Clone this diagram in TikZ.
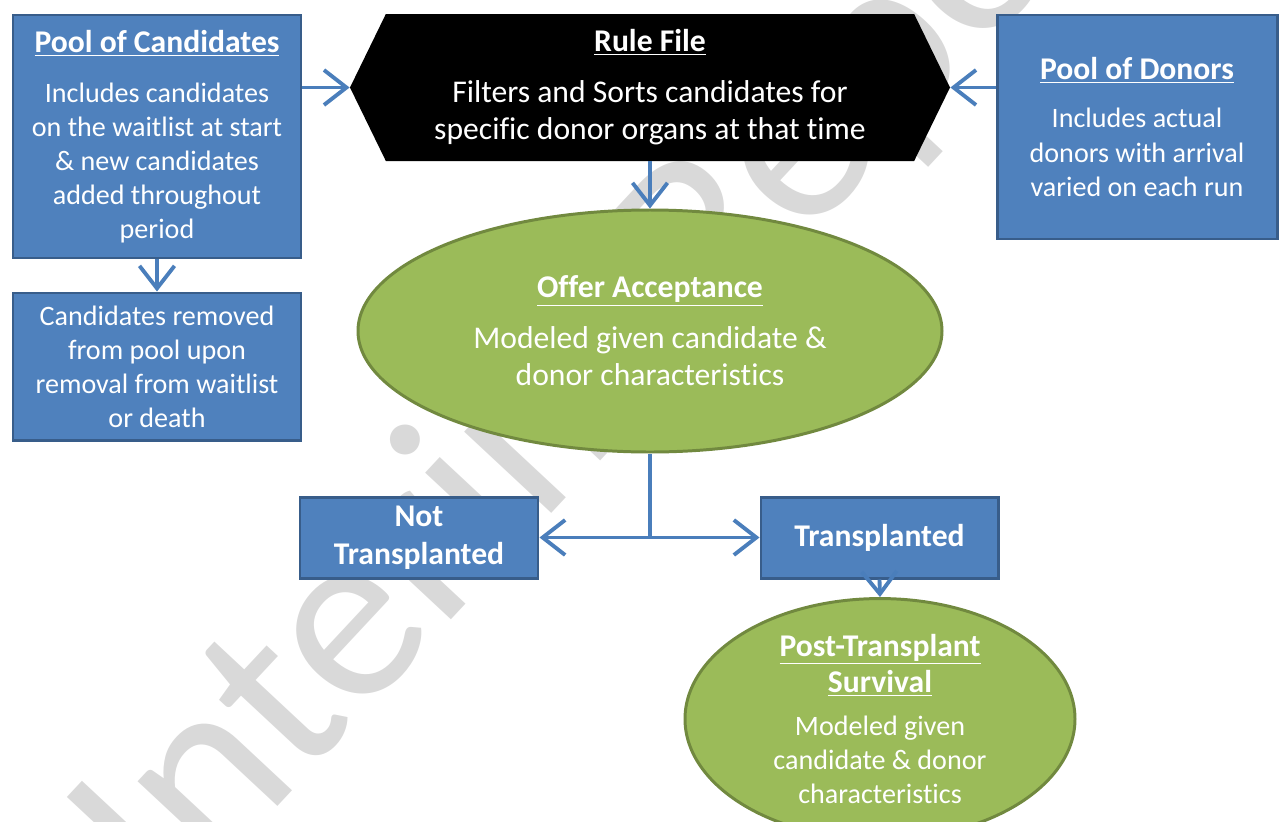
\documentclass[tikz,border=0pt]{standalone}
\usepackage{fontspec}
\setmainfont{Carlito}[Ligatures=NoCommon]
\usetikzlibrary{shapes.geometric,shapes.symbols,arrows.meta}

\definecolor{boxblue}{HTML}{4F81BD}
\definecolor{boxedge}{HTML}{385D8A}
\definecolor{ovalgreen}{HTML}{9BBB59}
\definecolor{ovaledge}{HTML}{71893F}
\definecolor{flowblue}{HTML}{4A7EBB}
\definecolor{wmgray}{HTML}{D9D9D9}

\def\px{0.02cm}
\newcommand{\boxtitle}[1]{{\fontsize{18}{21.6}\selectfont\bfseries\underline{#1}}}

\tikzset{
  bluebox/.style={draw=boxedge, line width=1.7pt, fill=boxblue, text=white, align=center, inner sep=0pt},
  greenoval/.style={ellipse, draw=ovaledge, line width=1.7pt, fill=ovalgreen, text=white, align=center, inner sep=0pt},
  flow/.style={draw=flowblue, line width=2.2pt, -{Straight Barb[length=0.45cm,width=0.7cm]}},
  bodyfont/.style={font=\fontsize{16}{19.4}\selectfont},
  bigfont/.style={font=\fontsize{18}{21.6}\selectfont},
  titlefont/.style={font=\fontsize{18}{21.6}\selectfont\bfseries},
}

\begin{document}
\begin{tikzpicture}[x=0.02cm, y=-0.02cm]
\useasboundingbox (0,0) rectangle (1279,822);

% Watermark
\node[anchor=base west, rotate=47, text=wmgray, inner sep=0pt, font=\fontsize{142}{150}\selectfont] (wmark) at (170,922) {Interim Report};

% Candidate pools
\node[bluebox, bodyfont, minimum width=288*\px, minimum height=243*\px] (cand) at (157,136.5)
  {\boxtitle{Pool of Candidates}\\[9pt] Includes candidates\\ on the waitlist at start\\ \& new candidates\\ added throughout\\ period};
\node[bluebox, bodyfont, minimum width=288*\px, minimum height=147*\px] (removed) at (157,366.5)
  {Candidates removed\\ from pool upon\\ removal from waitlist\\ or death};

% Rule file
\node[signal, signal to=west and east, signal pointer angle=128, fill=black, text=white, align=center, bigfont,
  inner sep=0pt, minimum width=600*\px, minimum height=147*\px] (rule) at (650,87.5)
  {\boxtitle{Rule File}\\[7pt] Filters and Sorts candidates for\\ specific donor organs at that time};

% Donor pool
\node[bluebox, bodyfont, minimum width=280*\px, minimum height=224*\px] (donor) at (1137,127)
  {\boxtitle{Pool of Donors}\\[8pt] Includes actual\\ donors with arrival\\ varied on each run};

% Offer acceptance and outcomes
\node[greenoval, bigfont, minimum width=584*\px, minimum height=242*\px] (offer) at (650,331)
  {\boxtitle{Offer Acceptance}\\[7pt] Modeled given candidate \&\\ donor characteristics};
\node[bluebox, titlefont, minimum width=238*\px, minimum height=81*\px] (nottx) at (419,537.5) {Not\\ Transplanted};
\node[bluebox, titlefont, minimum width=237*\px, minimum height=81*\px] (tx) at (879.5,537.5) {Transplanted};
\node[greenoval, bodyfont, minimum width=390*\px, minimum height=208*\px] (post) at (880,719)
  {\boxtitle{Post-Transplant}\\[1.6pt] \boxtitle{Survival}\\[5pt] Modeled given\\ candidate \& donor\\ characteristics};

% Arrows
\draw[flow] (cand.east |- rule.west) -- (rule.west);
\draw[flow] (donor.west |- rule.east) -- (rule.east);
\draw[flow] (rule.south) -- (offer.north);
\draw[flow] (cand.south) -- (removed.north);
\coordinate (split) at (offer.south |- nottx.east);
\draw[draw=flowblue, line width=2.2pt] (offer.south) -- (split);
\draw[flow] (split) -- (nottx.east);
\draw[flow] (split) -- (tx.west);
\draw[flow] (tx.south) -- (post.north);
\end{tikzpicture}
\end{document}
